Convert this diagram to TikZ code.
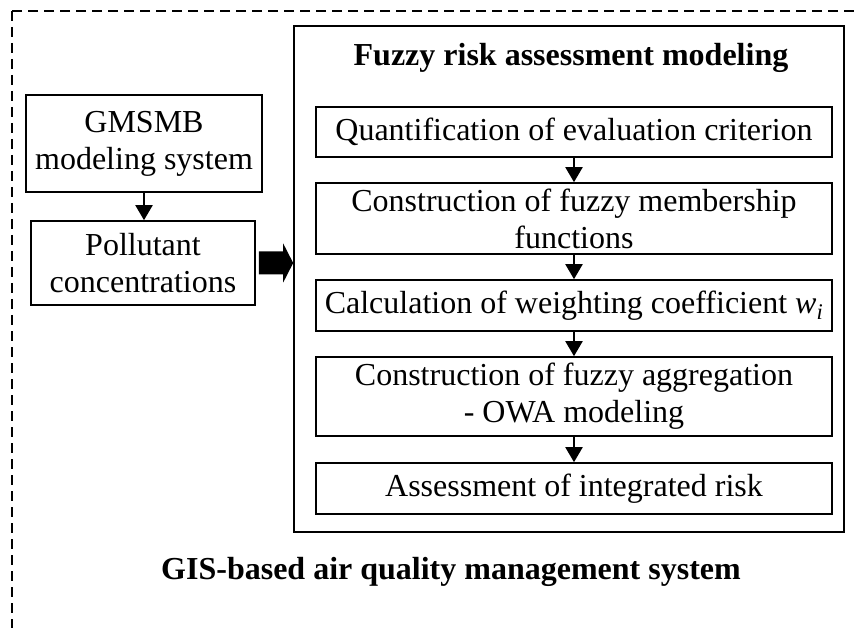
\documentclass[tikz,border=0pt]{standalone}
\usepackage{fontspec}
\setmainfont{Liberation Serif}
\usetikzlibrary{arrows.meta}

\tikzset{
  stage/.style={draw, line width=1.6pt, minimum width=516pt, align=center, inner sep=0pt},
  srcbox/.style={draw, line width=1.6pt, align=center, inner sep=0pt},
  heading/.style={font=\fontsize{32}{36.8}\selectfont\bfseries},
  flow/.style={-{Triangle[length=15pt,width=17pt]}, line width=2pt},
}

\begin{document}
\begin{tikzpicture}[x=1pt, y=-1pt,
        every node/.style={font=\fontsize{32}{36.8}\selectfont}]
  \useasboundingbox (0,0) rectangle (854,628);
  \clip (0,0) rectangle (854,628);
  % outer dashed frame, runs off the page
  \draw[line width=2pt, dash pattern=on 10pt off 6pt] (12,11) rectangle (880,660);

  % left column
  \node[srcbox, minimum width=236pt, minimum height=97pt] (gmsmb) at (144,143.5) {GMSMB\\modeling system};
  \node[srcbox, minimum width=224pt, minimum height=84pt] (pollut) at (143,263) {Pollutant\\concentrations};
  \draw[flow] (gmsmb.south) -- (gmsmb.south |- pollut.north);

  % fuzzy block
  \node[draw, line width=1.6pt, minimum width=550pt, minimum height=506pt] (fuzzy) at (569,279) {};
  \node[heading] (title) at (571,58) {Fuzzy risk assessment modeling};
  \node[stage, minimum height=50pt] (quant) at (574,132) {Quantification of evaluation criterion};
  \node[stage, minimum height=71pt] (member) at (574,218.5) {Construction of fuzzy membership\\functions};
  \node[stage, minimum height=51pt] (weight) at (574,305.5) {Calculation of weighting coefficient \textit{w\textsubscript{i}}};
  \node[stage, minimum height=79pt] (owa) at (574,396.5) {Construction of fuzzy aggregation\\- OWA modeling};
  \node[stage, minimum height=51pt] (assess) at (574,488.5) {Assessment of integrated risk};
  \foreach \a/\b in {quant/member, member/weight, weight/owa, owa/assess}
    \draw[flow] (\a.south) -- (\b.north);

  % block arrow into the fuzzy block
  \coordinate (tip) at (fuzzy.west |- pollut.east);
  \fill ([shift={(3,-11.5)}]pollut.east) -- ([shift={(-10,-11.5)}]tip) -- ([shift={(-10,-19.5)}]tip)
    -- (tip) -- ([shift={(-10,19.5)}]tip) -- ([shift={(-10,11.5)}]tip)
    -- ([shift={(3,11.5)}]pollut.east) -- cycle;

  \node[heading] (gis) at (451,572) {GIS-based air quality management system};
\end{tikzpicture}
\end{document}
